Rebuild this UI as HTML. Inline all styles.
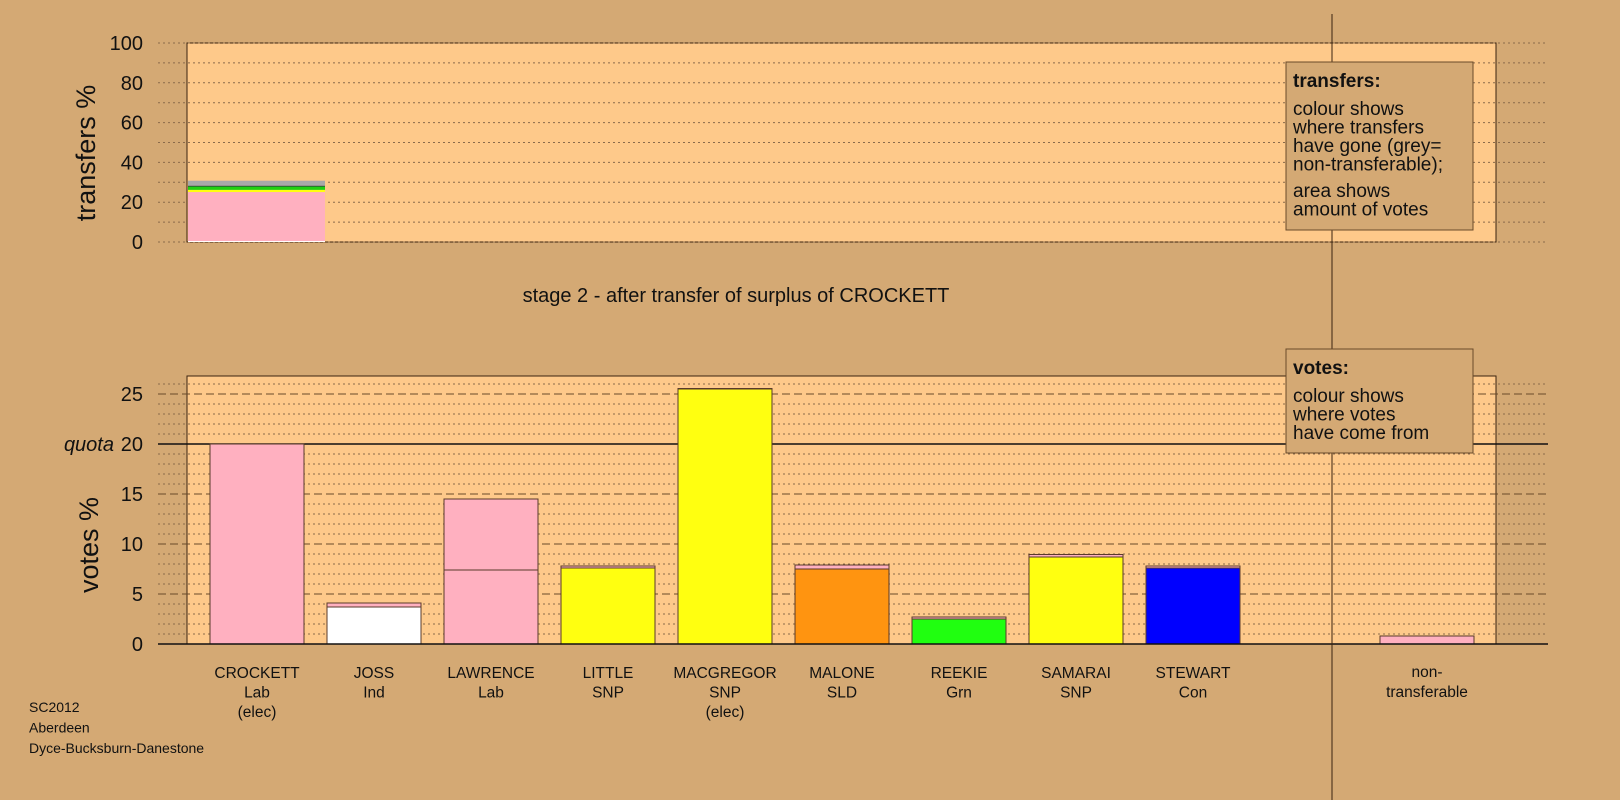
<!DOCTYPE html>
<html><head><meta charset="utf-8"><style>
html,body{margin:0;padding:0;background:#d4a974;}
svg{display:block;font-family:"Liberation Sans",sans-serif;}
</style></head><body>
<svg id="chart" width="1620" height="800" xmlns="http://www.w3.org/2000/svg">
<rect x="0" y="0" width="1620" height="800" fill="#d4a974"/>
</svg>
<script>
// ---- data ----
const candidates = ["CROCKETT","JOSS","LAWRENCE","LITTLE","MACGREGOR","MALONE","REEKIE","SAMARAI","STEWART"];
const parties = ["Lab","Ind","Lab","SNP","SNP","SLD","Grn","SNP","Con"];
const elected = [true,false,false,false,true,false,false,false,false];
const baseColors = ["#ffb0c0","#ffffff","#ffb0c0","#ffff10","#ffff10","#ff9410","#20ff10","#ffff10","#0000ff"];
const baseVotes = [20.0,3.7,7.4,7.6,25.5,7.5,2.5,8.7,7.6];
const transferVotes = [0.0,0.4,7.1,0.2,0.05,0.4,0.2,0.25,0.2];
const nonTransferable = 0.8;
const transferParts = [0.5,24.6,1.1,1.7,0.4,2.5];
const transferColors = ["#ffffff","#ffb0c0","#ffff10","#20d010","#202040","#a8a8a8"];
const votesTicks = [0,5,10,15,20,25];
const transferTicks = [0,20,40,60,80,100];
const quota = 20;

// ---- layout ----
const svg = document.getElementById('chart');
const NS = 'http://www.w3.org/2000/svg';
function el(tag, attrs, parent){const e=document.createElementNS(NS,tag);for(const k in attrs)e.setAttribute(k,attrs[k]);(parent||svg).appendChild(e);return e;}
const PL=187, PR=1496, LX=158, RX=1548;
const T0=242, T100=43;
const yT = v => T0 - (T0-T100)*v/100;
const B0=644, BTOP=376;
const yB = v => B0 - v*10;
const xBar = i => 210 + 117*i;
const BW = 94;
const PLOT = "#fec98a", LINE="#3a2410";

// top panel
const tp = el('rect',{x:PL,y:T100,width:PR-PL,height:T0-T100,fill:PLOT,stroke:LINE,'stroke-width':1});


for(let v=0; v<=100; v+=10){
  const g = el('line',{x1:LX,x2:RX,y1:yT(v),y2:yT(v),stroke:'#8a6a4a','stroke-width':1,'stroke-dasharray':'2,3'});
  
  
}
transferTicks.forEach(v=>{
  const t = el('text',{x:143,y:yT(v)+7,'font-size':20,'text-anchor':'end',fill:'#111'});
  t.textContent = v;
  
  
});
let acc=0;
transferParts.forEach((p,k)=>{
  const r = el('rect',{x:188,y:yT(acc+p),width:137,height:yT(acc)-yT(acc+p),fill:transferColors[k]});
  
  
  acc+=p;
});
const ta = el('text',{x:0,y:0,'font-size':27,'text-anchor':'middle',fill:'#111',transform:'translate(95,153) rotate(-90)'});
ta.textContent='transfers %';



// stage title
const st = el('text',{x:736,y:302,'font-size':20,'text-anchor':'middle',fill:'#111'});
st.textContent='stage 2 - after transfer of surplus of CROCKETT';



// bottom panel
const bp = el('rect',{x:PL,y:BTOP,width:PR-PL,height:B0-BTOP,fill:PLOT,stroke:LINE,'stroke-width':1});


for(let v=1; v<=26; v++){
  if(v===quota) continue;
  const dashed = v%5===0;
  const g = el('line',{x1:LX,x2:RX,y1:yB(v),y2:yB(v),stroke:dashed?'#6a4a2a':'#8a6a4a','stroke-width':1,'stroke-dasharray':dashed?'8,4':'2,3'});
  
  
}
const ql = el('line',{x1:LX,x2:RX,y1:yB(quota),y2:yB(quota),stroke:'#111','stroke-width':1.5});


votesTicks.forEach(v=>{
  const t = el('text',{x:143,y:yB(v)+7,'font-size':20,'text-anchor':'end',fill:'#111'});
  t.textContent = v;
  
  
});
const qt = el('text',{x:114,y:yB(quota)+7,'font-size':20,'text-anchor':'end','font-style':'italic',fill:'#111'});
qt.textContent='quota';


const va = el('text',{x:0,y:0,'font-size':27,'text-anchor':'middle',fill:'#111',transform:'translate(98,545) rotate(-90)'});
va.textContent='votes %';



candidates.forEach((c,i)=>{
  const x=xBar(i);
  const b = el('rect',{x:x,y:yB(baseVotes[i]),width:BW,height:yB(0)-yB(baseVotes[i]),fill:baseColors[i],stroke:'#5a3a2a','stroke-width':1});
  
  
  if(transferVotes[i]>0){
    const tr = el('rect',{x:x,y:yB(baseVotes[i]+transferVotes[i]),width:BW,height:yB(baseVotes[i])-yB(baseVotes[i]+transferVotes[i]),fill:'#ffb0c0',stroke:'#5a3a2a','stroke-width':1});
    
    
  }
  const lines=[c,parties[i]].concat(elected[i]?['(elec)']:[]);
  lines.forEach((s,k)=>{
    const t = el('text',{x:x+BW/2,y:678+k*19.5,'font-size':15.5,'text-anchor':'middle',fill:'#111'});
    t.textContent=s;
    
    
  });
});
const nt = el('rect',{x:xBar(10),y:yB(nonTransferable),width:BW,height:yB(0)-yB(nonTransferable),fill:'#ffb0c0',stroke:'#5a3a2a','stroke-width':1});


['non-','transferable'].forEach((s,k)=>{
  const t = el('text',{x:xBar(10)+BW/2,y:677+k*20,'font-size':15.5,'text-anchor':'middle',fill:'#111'});
  t.textContent=s;
  
  
});
const zl = el('line',{x1:LX,x2:RX,y1:B0,y2:B0,stroke:'#111','stroke-width':1.5});



// divider
const dv = el('line',{x1:1332,x2:1332,y1:14,y2:800,stroke:'#3a2410','stroke-width':1});



// legends
function legend(name,y,h,title,lines,gapAfter){
  const r = el('rect',{x:1286,y:y,width:187,height:h,fill:'#d4a974',stroke:'#6a4a2a','stroke-width':1});
  
  
  const t = el('text',{x:1293,y:y+25,'font-size':19,'font-weight':'bold',fill:'#111'});
  t.textContent=title;
  
  
  let yy=y+53;
  lines.forEach((s,k)=>{
    const l = el('text',{x:1293,y:yy,'font-size':19,fill:'#111'});
    l.textContent=s;
    
    
    yy+=18.5; if(k===gapAfter) yy+=8;
  });
}
legend('transfers-legend',62,168,'transfers:',['colour shows','where transfers','have gone (grey=','non-transferable);','area shows','amount of votes'],3);
legend('votes-legend',349,104,'votes:',['colour shows','where votes','have come from'],-1);

// footer
['SC2012','Aberdeen','Dyce-Bucksburn-Danestone'].forEach((s,k)=>{
  const t = el('text',{x:29,y:712+k*20.5,'font-size':14,fill:'#111'});
  t.textContent=s;
  
  
});
</script>
</body></html>
